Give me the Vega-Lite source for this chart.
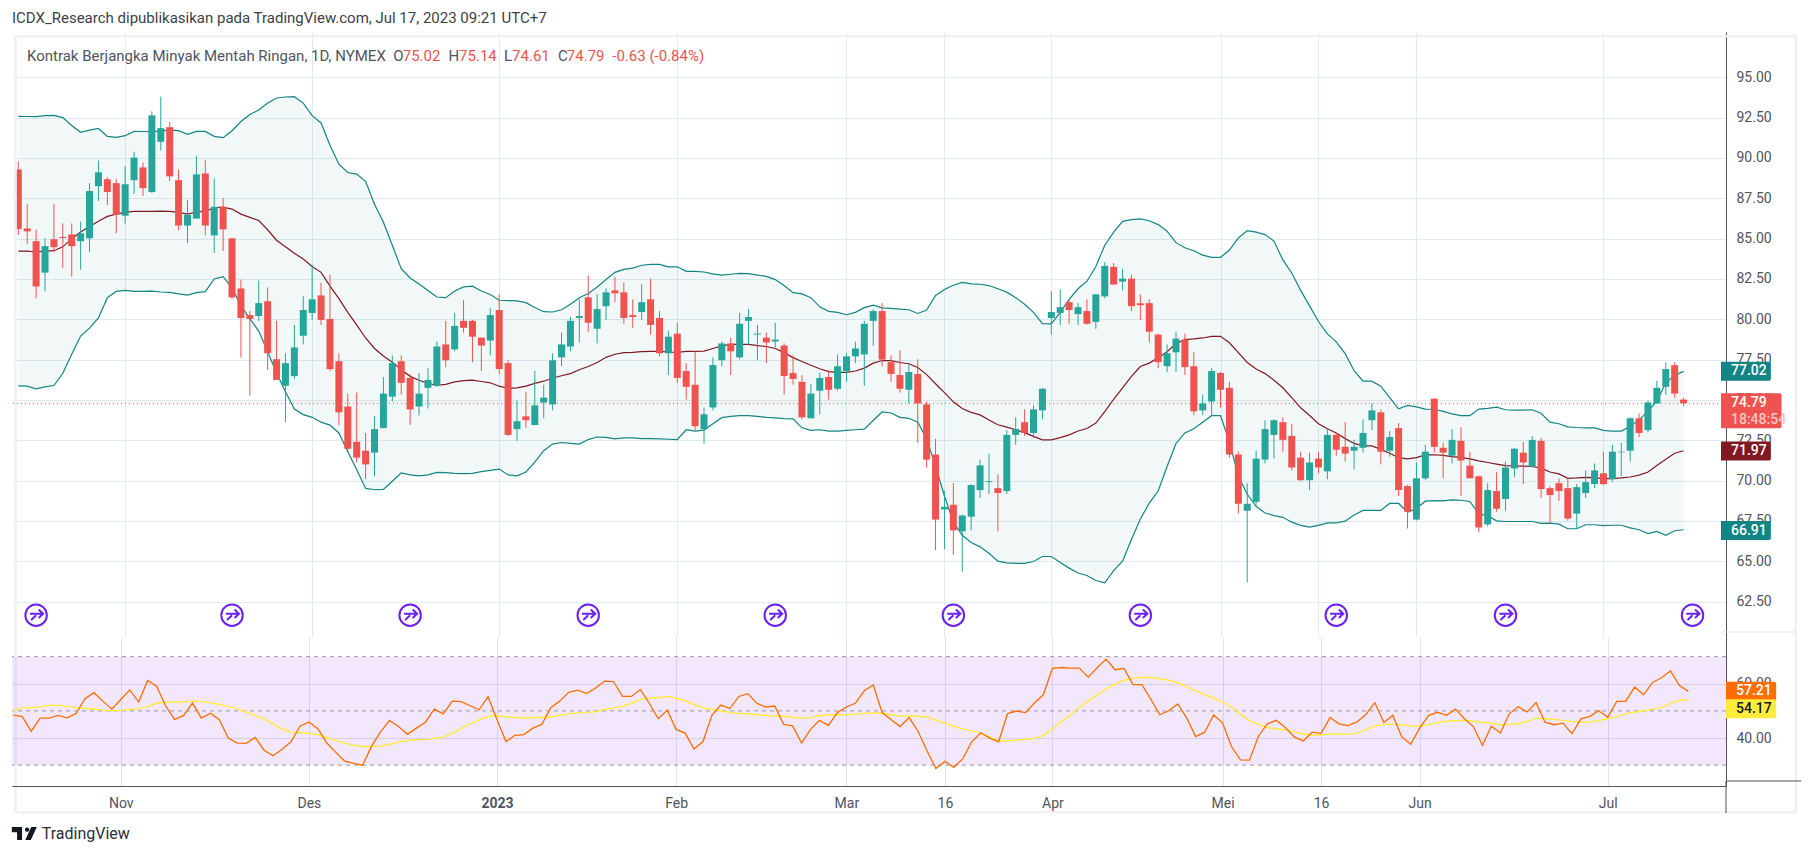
{
  "$schema": "https://vega.github.io/schema/vega-lite/v6.json",
  "padding": {"left": 11, "top": 11, "right": 0, "bottom": 0},
  "background": "#ffffff",
  "bounds": "flush",
  "title": {"text": "ICDX_Research dipublikasikan pada TradingView.com, Jul 17, 2023 09:21 UTC+7", "anchor": "start", "frame": "group", "font": "Roboto", "fontSize": 15, "fontWeight": "normal", "color": "#3c3f4a", "offset": 6},
  "config": {"view": {"stroke": null}, "font": "Roboto"},
  "datasets": {
    "bars": [
      {"bar":0,"o":89.29,"h":89.78,"l":85.22,"c":85.59,"upper":92.58,"basis":84.23,"lower":75.87,"rsi":48.46,"rsi_ma":50.06},
      {"bar":1,"o":85.63,"h":87.15,"l":84.66,"c":85.45,"upper":92.57,"basis":84.23,"lower":75.85,"rsi":47.88,"rsi_ma":51.21},
      {"bar":2,"o":84.84,"h":85.57,"l":81.3,"c":82.03,"upper":92.56,"basis":84.17,"lower":75.69,"rsi":42.5,"rsi_ma":51.21},
      {"bar":3,"o":82.89,"h":85.02,"l":81.73,"c":84.53,"upper":92.62,"basis":84.23,"lower":75.81,"rsi":47.31,"rsi_ma":51.44},
      {"bar":4,"o":84.96,"h":87.15,"l":84.17,"c":84.47,"upper":92.64,"basis":84.25,"lower":75.89,"rsi":47.31,"rsi_ma":52.12},
      {"bar":5,"o":85.1,"h":85.94,"l":83.19,"c":85.04,"upper":92.5,"basis":84.49,"lower":76.65,"rsi":48.34,"rsi_ma":52.12},
      {"bar":6,"o":85.26,"h":85.94,"l":82.64,"c":84.53,"upper":92.01,"basis":85.0,"lower":77.83,"rsi":47.42,"rsi_ma":51.67},
      {"bar":7,"o":84.84,"h":86.06,"l":83.07,"c":85.33,"upper":91.59,"basis":85.41,"lower":78.96,"rsi":49.03,"rsi_ma":51.21},
      {"bar":8,"o":85.02,"h":88.44,"l":84.17,"c":87.95,"upper":91.73,"basis":85.75,"lower":79.45,"rsi":54.53,"rsi_ma":50.98},
      {"bar":9,"o":88.25,"h":89.84,"l":87.34,"c":89.11,"upper":91.83,"basis":86.08,"lower":80.08,"rsi":56.71,"rsi_ma":50.63},
      {"bar":10,"o":88.68,"h":88.8,"l":87.09,"c":87.89,"upper":91.34,"basis":86.38,"lower":81.34,"rsi":53.61,"rsi_ma":50.29},
      {"bar":11,"o":88.44,"h":88.68,"l":85.33,"c":86.48,"upper":91.28,"basis":86.52,"lower":81.73,"rsi":50.63,"rsi_ma":50.06},
      {"bar":12,"o":86.42,"h":89.47,"l":85.94,"c":88.37,"upper":91.38,"basis":86.63,"lower":81.79,"rsi":54.19,"rsi_ma":50.18},
      {"bar":13,"o":88.62,"h":90.39,"l":87.76,"c":90.02,"upper":91.65,"basis":86.69,"lower":81.73,"rsi":57.74,"rsi_ma":50.52},
      {"bar":14,"o":89.41,"h":89.72,"l":87.64,"c":88.13,"upper":91.64,"basis":86.69,"lower":81.73,"rsi":53.27,"rsi_ma":50.75},
      {"bar":15,"o":87.89,"h":92.89,"l":87.83,"c":92.64,"upper":91.63,"basis":86.69,"lower":81.75,"rsi":61.18,"rsi_ma":51.67},
      {"bar":16,"o":91.0,"h":93.8,"l":90.45,"c":91.85,"upper":91.68,"basis":86.71,"lower":81.69,"rsi":59.12,"rsi_ma":52.81},
      {"bar":17,"o":91.91,"h":92.22,"l":88.56,"c":88.86,"upper":91.73,"basis":86.69,"lower":81.67,"rsi":51.9,"rsi_ma":53.27},
      {"bar":18,"o":88.62,"h":89.29,"l":85.51,"c":85.81,"upper":91.69,"basis":86.63,"lower":81.57,"rsi":46.85,"rsi_ma":53.27},
      {"bar":19,"o":85.81,"h":87.4,"l":84.72,"c":86.48,"upper":91.46,"basis":86.52,"lower":81.5,"rsi":48.23,"rsi_ma":53.27},
      {"bar":20,"o":86.24,"h":90.14,"l":86.24,"c":88.98,"upper":91.65,"basis":86.65,"lower":81.65,"rsi":52.93,"rsi_ma":53.61},
      {"bar":21,"o":89.04,"h":89.9,"l":85.2,"c":85.81,"upper":91.65,"basis":86.69,"lower":81.71,"rsi":47.31,"rsi_ma":53.5},
      {"bar":22,"o":85.2,"h":88.74,"l":84.11,"c":86.97,"upper":91.34,"basis":86.91,"lower":82.5,"rsi":49.14,"rsi_ma":53.04},
      {"bar":23,"o":86.97,"h":87.52,"l":84.23,"c":85.57,"upper":91.26,"basis":86.95,"lower":82.64,"rsi":46.74,"rsi_ma":52.35},
      {"bar":24,"o":85.02,"h":85.02,"l":81.24,"c":81.36,"upper":91.69,"basis":86.83,"lower":81.95,"rsi":39.97,"rsi_ma":51.55},
      {"bar":25,"o":81.91,"h":82.46,"l":77.64,"c":80.08,"upper":92.26,"basis":86.52,"lower":80.83,"rsi":38.14,"rsi_ma":50.75},
      {"bar":26,"o":80.26,"h":80.51,"l":75.26,"c":80.02,"upper":92.7,"basis":86.32,"lower":80.02,"rsi":38.03,"rsi_ma":49.6},
      {"bar":27,"o":80.2,"h":82.4,"l":79.9,"c":81.0,"upper":92.97,"basis":86.12,"lower":79.27,"rsi":40.2,"rsi_ma":48.23},
      {"bar":28,"o":81.12,"h":81.97,"l":76.85,"c":77.89,"upper":93.41,"basis":85.55,"lower":77.99,"rsi":35.5,"rsi_ma":47.08},
      {"bar":29,"o":77.52,"h":79.9,"l":76.24,"c":76.24,"upper":93.72,"basis":84.9,"lower":76.67,"rsi":33.44,"rsi_ma":45.25},
      {"bar":30,"o":75.87,"h":77.89,"l":73.62,"c":77.28,"upper":93.78,"basis":84.49,"lower":75.51,"rsi":35.85,"rsi_ma":43.41},
      {"bar":31,"o":76.48,"h":79.65,"l":76.3,"c":78.25,"upper":93.8,"basis":84.09,"lower":74.43,"rsi":38.6,"rsi_ma":42.15},
      {"bar":32,"o":78.98,"h":81.42,"l":78.44,"c":80.57,"upper":93.4,"basis":83.74,"lower":74.09,"rsi":44.33,"rsi_ma":41.92},
      {"bar":33,"o":80.39,"h":83.37,"l":79.96,"c":81.24,"upper":92.62,"basis":83.27,"lower":73.92,"rsi":45.93,"rsi_ma":41.81},
      {"bar":34,"o":81.48,"h":82.28,"l":79.65,"c":79.96,"upper":92.17,"basis":82.91,"lower":73.62,"rsi":43.41,"rsi_ma":41.12},
      {"bar":35,"o":80.02,"h":82.76,"l":76.79,"c":76.91,"upper":90.79,"basis":82.05,"lower":73.44,"rsi":38.14,"rsi_ma":40.2},
      {"bar":36,"o":77.4,"h":77.89,"l":73.44,"c":74.23,"upper":89.61,"basis":81.28,"lower":72.95,"rsi":34.7,"rsi_ma":39.06},
      {"bar":37,"o":74.59,"h":75.39,"l":71.79,"c":71.97,"upper":89.1,"basis":80.43,"lower":71.79,"rsi":31.5,"rsi_ma":38.14},
      {"bar":38,"o":72.4,"h":75.45,"l":71.12,"c":71.42,"upper":89.0,"basis":79.65,"lower":70.67,"rsi":30.69,"rsi_ma":37.34},
      {"bar":39,"o":71.85,"h":72.95,"l":70.08,"c":71.0,"upper":88.55,"basis":78.84,"lower":69.51,"rsi":30.0,"rsi_ma":36.88},
      {"bar":40,"o":71.73,"h":73.98,"l":70.26,"c":73.19,"upper":87.13,"basis":78.19,"lower":69.43,"rsi":37.0,"rsi_ma":36.88},
      {"bar":41,"o":73.25,"h":76.42,"l":73.25,"c":75.39,"upper":86.01,"basis":77.72,"lower":69.45,"rsi":42.27,"rsi_ma":37.0},
      {"bar":42,"o":75.2,"h":77.76,"l":74.9,"c":77.28,"upper":84.59,"basis":77.34,"lower":69.96,"rsi":46.51,"rsi_ma":37.68},
      {"bar":43,"o":77.4,"h":77.76,"l":75.33,"c":76.06,"upper":83.13,"basis":76.87,"lower":70.47,"rsi":44.22,"rsi_ma":38.49},
      {"bar":44,"o":76.36,"h":76.61,"l":73.44,"c":74.41,"upper":82.56,"basis":76.46,"lower":70.35,"rsi":41.35,"rsi_ma":39.06},
      {"bar":45,"o":74.59,"h":76.67,"l":74.05,"c":75.39,"upper":82.19,"basis":76.22,"lower":70.29,"rsi":43.64,"rsi_ma":39.4},
      {"bar":46,"o":75.75,"h":76.97,"l":74.47,"c":76.24,"upper":81.78,"basis":76.02,"lower":70.35,"rsi":45.82,"rsi_ma":39.4},
      {"bar":47,"o":75.87,"h":78.62,"l":75.81,"c":78.31,"upper":81.38,"basis":75.91,"lower":70.51,"rsi":50.63,"rsi_ma":39.86},
      {"bar":48,"o":78.44,"h":79.9,"l":77.03,"c":77.46,"upper":81.34,"basis":75.96,"lower":70.49,"rsi":48.92,"rsi_ma":40.32},
      {"bar":49,"o":78.13,"h":80.39,"l":78.01,"c":79.59,"upper":81.75,"basis":76.12,"lower":70.45,"rsi":53.61,"rsi_ma":41.81},
      {"bar":50,"o":79.9,"h":81.18,"l":79.17,"c":79.47,"upper":82.01,"basis":76.2,"lower":70.43,"rsi":53.38,"rsi_ma":43.53},
      {"bar":51,"o":79.9,"h":79.96,"l":77.34,"c":78.92,"upper":82.05,"basis":76.22,"lower":70.45,"rsi":51.9,"rsi_ma":45.25},
      {"bar":52,"o":78.86,"h":78.86,"l":76.79,"c":78.37,"upper":81.75,"basis":76.14,"lower":70.55,"rsi":50.4,"rsi_ma":46.74},
      {"bar":53,"o":78.68,"h":80.69,"l":77.76,"c":80.26,"upper":81.54,"basis":76.06,"lower":70.63,"rsi":55.22,"rsi_ma":47.88},
      {"bar":54,"o":80.57,"h":81.55,"l":76.61,"c":76.91,"upper":81.18,"basis":75.85,"lower":70.71,"rsi":46.74,"rsi_ma":48.11},
      {"bar":55,"o":77.28,"h":77.46,"l":72.76,"c":72.83,"upper":81.16,"basis":75.71,"lower":70.35,"rsi":38.71,"rsi_ma":47.88},
      {"bar":56,"o":73.19,"h":74.96,"l":72.46,"c":73.68,"upper":81.14,"basis":75.75,"lower":70.29,"rsi":41.0,"rsi_ma":47.54},
      {"bar":57,"o":73.98,"h":75.51,"l":73.25,"c":73.74,"upper":81.03,"basis":75.85,"lower":70.53,"rsi":41.24,"rsi_ma":47.31},
      {"bar":58,"o":73.44,"h":76.79,"l":73.44,"c":74.66,"upper":80.73,"basis":76.02,"lower":71.14,"rsi":43.64,"rsi_ma":47.54},
      {"bar":59,"o":74.84,"h":75.94,"l":73.86,"c":75.14,"upper":80.47,"basis":76.16,"lower":71.85,"rsi":45.02,"rsi_ma":47.54},
      {"bar":60,"o":74.72,"h":77.89,"l":74.35,"c":77.46,"upper":80.45,"basis":76.36,"lower":72.26,"rsi":51.21,"rsi_ma":47.77},
      {"bar":61,"o":77.64,"h":79.17,"l":77.09,"c":78.44,"upper":80.59,"basis":76.5,"lower":72.36,"rsi":53.61,"rsi_ma":48.34},
      {"bar":62,"o":78.31,"h":80.14,"l":78.01,"c":79.9,"upper":80.93,"basis":76.63,"lower":72.3,"rsi":56.82,"rsi_ma":48.92},
      {"bar":63,"o":80.08,"h":81.24,"l":78.56,"c":80.2,"upper":81.34,"basis":76.87,"lower":72.26,"rsi":57.62,"rsi_ma":49.26},
      {"bar":64,"o":81.36,"h":82.7,"l":79.23,"c":79.78,"upper":81.6,"basis":77.07,"lower":72.54,"rsi":56.36,"rsi_ma":49.37},
      {"bar":65,"o":79.41,"h":81.55,"l":78.5,"c":80.63,"upper":82.0,"basis":77.32,"lower":72.7,"rsi":58.43,"rsi_ma":49.72},
      {"bar":66,"o":80.81,"h":81.91,"l":79.96,"c":81.67,"upper":82.46,"basis":77.64,"lower":72.68,"rsi":60.95,"rsi_ma":50.52},
      {"bar":67,"o":81.79,"h":82.64,"l":81.06,"c":81.61,"upper":82.91,"basis":77.83,"lower":72.58,"rsi":60.83,"rsi_ma":51.09},
      {"bar":68,"o":81.67,"h":82.28,"l":79.72,"c":80.08,"upper":83.09,"basis":77.93,"lower":72.64,"rsi":55.33,"rsi_ma":51.67},
      {"bar":69,"o":80.26,"h":81.24,"l":79.47,"c":80.14,"upper":83.17,"basis":77.95,"lower":72.64,"rsi":55.33,"rsi_ma":52.81},
      {"bar":70,"o":80.45,"h":82.16,"l":79.96,"c":81.06,"upper":83.35,"basis":77.99,"lower":72.6,"rsi":57.85,"rsi_ma":54.19},
      {"bar":71,"o":81.24,"h":82.52,"l":79.05,"c":79.65,"upper":83.4,"basis":78.01,"lower":72.6,"rsi":52.81,"rsi_ma":54.65},
      {"bar":72,"o":80.08,"h":80.51,"l":77.7,"c":77.89,"upper":83.4,"basis":78.01,"lower":72.58,"rsi":47.08,"rsi_ma":54.87},
      {"bar":73,"o":77.89,"h":79.29,"l":76.55,"c":78.92,"upper":83.25,"basis":77.97,"lower":72.56,"rsi":50.29,"rsi_ma":55.33},
      {"bar":74,"o":79.11,"h":79.78,"l":76.06,"c":76.36,"upper":83.25,"basis":77.95,"lower":72.54,"rsi":43.18,"rsi_ma":54.65},
      {"bar":75,"o":76.79,"h":77.28,"l":75.02,"c":75.81,"upper":82.97,"basis":78.01,"lower":73.15,"rsi":41.81,"rsi_ma":53.73},
      {"bar":76,"o":75.94,"h":78.01,"l":73.11,"c":73.37,"upper":82.97,"basis":78.01,"lower":73.07,"rsi":35.96,"rsi_ma":52.35},
      {"bar":77,"o":73.19,"h":74.53,"l":72.28,"c":74.11,"upper":82.93,"basis":78.03,"lower":73.13,"rsi":38.71,"rsi_ma":51.09},
      {"bar":78,"o":74.53,"h":77.64,"l":74.35,"c":77.16,"upper":82.81,"basis":78.19,"lower":73.52,"rsi":48.46,"rsi_ma":50.52},
      {"bar":79,"o":77.46,"h":78.62,"l":77.09,"c":78.5,"upper":82.74,"basis":78.35,"lower":73.9,"rsi":52.12,"rsi_ma":50.06},
      {"bar":80,"o":78.5,"h":78.86,"l":76.55,"c":78.01,"upper":82.79,"basis":78.44,"lower":73.98,"rsi":50.86,"rsi_ma":49.37},
      {"bar":81,"o":77.64,"h":80.39,"l":77.52,"c":79.72,"upper":82.85,"basis":78.44,"lower":74.02,"rsi":55.33,"rsi_ma":49.03},
      {"bar":82,"o":79.9,"h":80.63,"l":78.44,"c":80.14,"upper":82.83,"basis":78.44,"lower":74.02,"rsi":56.36,"rsi_ma":48.92},
      {"bar":83,"o":79.05,"h":79.65,"l":77.46,"c":79.11,"upper":82.74,"basis":78.37,"lower":73.98,"rsi":52.81,"rsi_ma":48.69},
      {"bar":84,"o":78.86,"h":79.17,"l":77.28,"c":78.56,"upper":82.66,"basis":78.31,"lower":73.92,"rsi":51.44,"rsi_ma":48.34},
      {"bar":85,"o":78.62,"h":79.78,"l":78.25,"c":78.74,"upper":82.46,"basis":78.19,"lower":73.88,"rsi":51.78,"rsi_ma":48.23},
      {"bar":86,"o":78.37,"h":78.5,"l":75.33,"c":76.48,"upper":82.09,"basis":77.93,"lower":73.84,"rsi":45.02,"rsi_ma":48.0},
      {"bar":87,"o":76.67,"h":77.76,"l":75.94,"c":76.3,"upper":81.65,"basis":77.62,"lower":73.82,"rsi":44.45,"rsi_ma":47.65},
      {"bar":88,"o":76.12,"h":76.55,"l":73.8,"c":73.92,"upper":81.57,"basis":77.38,"lower":73.27,"rsi":38.14,"rsi_ma":47.31},
      {"bar":89,"o":73.86,"h":76.0,"l":73.86,"c":75.39,"upper":81.34,"basis":77.15,"lower":73.11,"rsi":43.18,"rsi_ma":47.42},
      {"bar":90,"o":75.57,"h":76.67,"l":74.11,"c":76.36,"upper":80.77,"basis":76.93,"lower":73.15,"rsi":46.51,"rsi_ma":48.23},
      {"bar":91,"o":76.42,"h":76.85,"l":75.02,"c":75.63,"upper":80.49,"basis":76.75,"lower":73.07,"rsi":44.67,"rsi_ma":48.57},
      {"bar":92,"o":75.69,"h":77.82,"l":75.57,"c":77.09,"upper":80.43,"basis":76.71,"lower":73.07,"rsi":49.37,"rsi_ma":48.57},
      {"bar":93,"o":76.79,"h":77.89,"l":76.12,"c":77.7,"upper":80.28,"basis":76.71,"lower":73.11,"rsi":51.44,"rsi_ma":48.57},
      {"bar":94,"o":77.7,"h":78.62,"l":77.28,"c":78.19,"upper":80.43,"basis":76.79,"lower":73.15,"rsi":52.81,"rsi_ma":48.8},
      {"bar":95,"o":77.82,"h":79.9,"l":75.88,"c":79.72,"upper":80.72,"basis":76.97,"lower":73.19,"rsi":57.4,"rsi_ma":49.03},
      {"bar":96,"o":79.9,"h":80.63,"l":78.37,"c":80.51,"upper":80.87,"basis":77.28,"lower":73.72,"rsi":59.57,"rsi_ma":49.26},
      {"bar":97,"o":80.51,"h":81.0,"l":77.09,"c":77.5,"upper":80.71,"basis":77.44,"lower":74.25,"rsi":49.37,"rsi_ma":49.14},
      {"bar":98,"o":77.34,"h":77.76,"l":76.12,"c":76.61,"upper":80.67,"basis":77.44,"lower":74.19,"rsi":46.74,"rsi_ma":48.57},
      {"bar":99,"o":76.54,"h":78.07,"l":75.45,"c":75.69,"upper":80.63,"basis":77.32,"lower":73.92,"rsi":44.22,"rsi_ma":48.11},
      {"bar":100,"o":75.63,"h":77.22,"l":74.78,"c":76.73,"upper":80.59,"basis":77.24,"lower":73.86,"rsi":47.54,"rsi_ma":48.11},
      {"bar":101,"o":76.61,"h":77.52,"l":72.34,"c":74.78,"upper":80.36,"basis":77.01,"lower":73.62,"rsi":42.5,"rsi_ma":48.0},
      {"bar":102,"o":74.72,"h":74.9,"l":70.81,"c":71.3,"upper":80.57,"basis":76.57,"lower":72.6,"rsi":35.28,"rsi_ma":47.77},
      {"bar":103,"o":71.61,"h":72.58,"l":65.69,"c":67.58,"upper":81.48,"basis":76.0,"lower":70.87,"rsi":28.74,"rsi_ma":46.62},
      {"bar":104,"o":68.21,"h":69.35,"l":65.75,"c":68.37,"upper":81.85,"basis":75.45,"lower":69.04,"rsi":31.38,"rsi_ma":45.48},
      {"bar":105,"o":68.5,"h":69.84,"l":65.39,"c":66.91,"upper":82.11,"basis":74.88,"lower":67.42,"rsi":29.2,"rsi_ma":44.33},
      {"bar":106,"o":66.85,"h":67.89,"l":64.35,"c":67.83,"upper":82.29,"basis":74.47,"lower":66.61,"rsi":32.41,"rsi_ma":43.3},
      {"bar":107,"o":67.76,"h":69.78,"l":66.91,"c":69.72,"upper":82.19,"basis":74.23,"lower":66.16,"rsi":38.6,"rsi_ma":42.61},
      {"bar":108,"o":69.41,"h":71.3,"l":68.92,"c":70.94,"upper":82.17,"basis":74.07,"lower":65.89,"rsi":41.92,"rsi_ma":41.81},
      {"bar":109,"o":69.9,"h":71.67,"l":69.17,"c":69.96,"upper":82.09,"basis":73.76,"lower":65.49,"rsi":39.97,"rsi_ma":40.43},
      {"bar":110,"o":69.53,"h":70.39,"l":66.85,"c":69.23,"upper":81.89,"basis":73.46,"lower":65.0,"rsi":38.6,"rsi_ma":39.06},
      {"bar":111,"o":69.35,"h":73.13,"l":69.17,"c":72.83,"upper":81.68,"basis":73.31,"lower":64.9,"rsi":49.03,"rsi_ma":38.94},
      {"bar":112,"o":72.83,"h":73.92,"l":72.22,"c":73.19,"upper":81.34,"basis":73.15,"lower":64.86,"rsi":49.95,"rsi_ma":39.17},
      {"bar":113,"o":73.62,"h":74.41,"l":72.76,"c":72.95,"upper":80.93,"basis":72.97,"lower":64.86,"rsi":49.37,"rsi_ma":39.52},
      {"bar":114,"o":72.95,"h":74.66,"l":72.64,"c":74.41,"upper":80.43,"basis":72.74,"lower":64.98,"rsi":52.93,"rsi_ma":39.86},
      {"bar":115,"o":74.35,"h":75.75,"l":73.8,"c":75.69,"upper":79.73,"basis":72.52,"lower":65.29,"rsi":56.02,"rsi_ma":41.0},
      {"bar":116,"o":80.08,"h":81.74,"l":79.04,"c":80.45,"upper":79.71,"basis":72.52,"lower":65.29,"rsi":65.65,"rsi_ma":43.3},
      {"bar":117,"o":80.39,"h":81.85,"l":79.65,"c":80.75,"upper":80.43,"basis":72.66,"lower":64.92,"rsi":65.99,"rsi_ma":46.05},
      {"bar":118,"o":81.06,"h":81.24,"l":79.72,"c":80.57,"upper":81.24,"basis":72.83,"lower":64.57,"rsi":65.76,"rsi_ma":48.46},
      {"bar":119,"o":80.32,"h":81.0,"l":79.65,"c":80.75,"upper":81.89,"basis":73.07,"lower":64.27,"rsi":65.76,"rsi_ma":51.32},
      {"bar":120,"o":80.51,"h":81.24,"l":79.65,"c":79.72,"upper":82.36,"basis":73.23,"lower":64.11,"rsi":62.44,"rsi_ma":53.61},
      {"bar":121,"o":79.84,"h":81.56,"l":79.4,"c":81.54,"upper":83.27,"basis":73.56,"lower":63.8,"rsi":65.88,"rsi_ma":55.91},
      {"bar":122,"o":81.42,"h":83.55,"l":81.3,"c":83.31,"upper":84.59,"basis":74.27,"lower":63.66,"rsi":69.09,"rsi_ma":57.97},
      {"bar":123,"o":83.25,"h":83.49,"l":82.15,"c":82.15,"upper":85.4,"basis":75.04,"lower":64.41,"rsi":65.19,"rsi_ma":59.92},
      {"bar":124,"o":82.33,"h":83.13,"l":81.79,"c":82.52,"upper":86.07,"basis":75.75,"lower":65.0,"rsi":65.65,"rsi_ma":61.29},
      {"bar":125,"o":82.52,"h":82.76,"l":80.51,"c":80.81,"upper":86.18,"basis":76.46,"lower":66.34,"rsi":59.69,"rsi_ma":61.98},
      {"bar":126,"o":80.99,"h":81.54,"l":79.95,"c":80.87,"upper":86.22,"basis":77.07,"lower":67.62,"rsi":59.69,"rsi_ma":62.32},
      {"bar":127,"o":81.0,"h":81.24,"l":78.56,"c":79.23,"upper":86.11,"basis":77.28,"lower":68.6,"rsi":54.19,"rsi_ma":62.32},
      {"bar":128,"o":79.05,"h":79.11,"l":76.97,"c":77.34,"upper":85.87,"basis":77.62,"lower":69.35,"rsi":48.57,"rsi_ma":61.87},
      {"bar":129,"o":77.09,"h":78.44,"l":76.73,"c":77.89,"upper":85.46,"basis":77.99,"lower":70.87,"rsi":50.06,"rsi_ma":61.29},
      {"bar":130,"o":77.95,"h":79.23,"l":76.73,"c":78.8,"upper":84.75,"basis":78.5,"lower":72.3,"rsi":52.58,"rsi_ma":60.38},
      {"bar":131,"o":78.74,"h":79.11,"l":76.55,"c":77.03,"upper":84.43,"basis":78.74,"lower":72.95,"rsi":47.31,"rsi_ma":59.0},
      {"bar":132,"o":77.09,"h":77.95,"l":74.05,"c":74.29,"upper":84.25,"basis":78.78,"lower":73.21,"rsi":40.55,"rsi_ma":57.4},
      {"bar":133,"o":74.35,"h":75.33,"l":74.05,"c":74.78,"upper":83.98,"basis":78.84,"lower":73.62,"rsi":42.15,"rsi_ma":56.02},
      {"bar":134,"o":74.9,"h":76.97,"l":74.05,"c":76.79,"upper":83.84,"basis":78.94,"lower":74.02,"rsi":48.46,"rsi_ma":54.76},
      {"bar":135,"o":76.67,"h":76.73,"l":74.53,"c":75.63,"upper":83.84,"basis":78.94,"lower":74.02,"rsi":45.59,"rsi_ma":53.27},
      {"bar":136,"o":75.75,"h":76.12,"l":71.42,"c":71.61,"upper":84.29,"basis":78.54,"lower":72.4,"rsi":36.77,"rsi_ma":51.32},
      {"bar":137,"o":71.61,"h":71.79,"l":67.95,"c":68.56,"upper":85.05,"basis":77.93,"lower":70.26,"rsi":31.95,"rsi_ma":48.8},
      {"bar":138,"o":68.13,"h":69.84,"l":63.68,"c":68.56,"upper":85.49,"basis":77.32,"lower":69.15,"rsi":31.84,"rsi_ma":46.39},
      {"bar":139,"o":68.68,"h":71.85,"l":68.5,"c":71.36,"upper":85.4,"basis":76.91,"lower":68.4,"rsi":40.66,"rsi_ma":45.02},
      {"bar":140,"o":71.3,"h":73.74,"l":71.06,"c":73.19,"upper":85.25,"basis":76.63,"lower":67.99,"rsi":45.25,"rsi_ma":43.87},
      {"bar":141,"o":72.83,"h":73.8,"l":71.36,"c":73.74,"upper":84.85,"basis":76.22,"lower":67.83,"rsi":46.51,"rsi_ma":43.41},
      {"bar":142,"o":73.62,"h":73.92,"l":71.79,"c":72.52,"upper":83.68,"basis":75.75,"lower":67.72,"rsi":43.87,"rsi_ma":43.07},
      {"bar":143,"o":72.77,"h":73.5,"l":70.63,"c":70.81,"upper":82.87,"basis":75.14,"lower":67.42,"rsi":40.43,"rsi_ma":42.27},
      {"bar":144,"o":71.42,"h":71.79,"l":69.96,"c":70.02,"upper":81.79,"basis":74.51,"lower":67.22,"rsi":38.94,"rsi_ma":41.47},
      {"bar":145,"o":70.02,"h":71.73,"l":69.41,"c":71.12,"upper":80.83,"basis":74.03,"lower":67.11,"rsi":42.15,"rsi_ma":41.12},
      {"bar":146,"o":71.36,"h":71.79,"l":70.45,"c":70.81,"upper":79.86,"basis":73.52,"lower":67.22,"rsi":41.7,"rsi_ma":41.12},
      {"bar":147,"o":70.57,"h":73.19,"l":70.08,"c":72.83,"upper":79.09,"basis":73.21,"lower":67.38,"rsi":47.54,"rsi_ma":41.58},
      {"bar":148,"o":72.83,"h":72.95,"l":71.55,"c":71.91,"upper":78.6,"basis":72.95,"lower":67.38,"rsi":45.25,"rsi_ma":41.47},
      {"bar":149,"o":72.09,"h":73.62,"l":71.18,"c":71.67,"upper":77.87,"basis":72.6,"lower":67.48,"rsi":44.56,"rsi_ma":41.35},
      {"bar":150,"o":71.85,"h":72.52,"l":70.69,"c":72.09,"upper":76.81,"basis":72.3,"lower":67.87,"rsi":45.93,"rsi_ma":41.81},
      {"bar":151,"o":72.03,"h":73.8,"l":71.73,"c":72.95,"upper":76.16,"basis":72.15,"lower":68.15,"rsi":48.69,"rsi_ma":43.07},
      {"bar":152,"o":73.74,"h":74.78,"l":73.13,"c":74.35,"upper":76.16,"basis":72.15,"lower":68.15,"rsi":53.04,"rsi_ma":44.45},
      {"bar":153,"o":74.23,"h":74.41,"l":71.0,"c":71.79,"upper":75.85,"basis":71.93,"lower":68.15,"rsi":45.71,"rsi_ma":45.02},
      {"bar":154,"o":71.85,"h":73.07,"l":71.48,"c":72.7,"upper":75.14,"basis":71.69,"lower":68.58,"rsi":48.34,"rsi_ma":45.13},
      {"bar":155,"o":73.25,"h":73.56,"l":69.05,"c":69.41,"upper":74.45,"basis":71.42,"lower":68.58,"rsi":40.43,"rsi_ma":44.9},
      {"bar":156,"o":69.66,"h":69.72,"l":67.03,"c":68.07,"upper":74.66,"basis":71.34,"lower":68.03,"rsi":37.68,"rsi_ma":44.45},
      {"bar":157,"o":67.58,"h":71.12,"l":67.52,"c":70.14,"upper":74.57,"basis":71.42,"lower":68.27,"rsi":43.64,"rsi_ma":44.45},
      {"bar":158,"o":70.14,"h":72.22,"l":70.02,"c":71.79,"upper":74.43,"basis":71.59,"lower":68.72,"rsi":48.34,"rsi_ma":45.02},
      {"bar":159,"o":75.08,"h":75.08,"l":71.73,"c":72.09,"upper":74.42,"basis":71.6,"lower":68.75,"rsi":49.49,"rsi_ma":45.71},
      {"bar":160,"o":72.03,"h":72.34,"l":70.14,"c":71.73,"upper":74.29,"basis":71.56,"lower":68.74,"rsi":48.34,"rsi_ma":46.16},
      {"bar":161,"o":71.54,"h":73.19,"l":71.06,"c":72.52,"upper":74.13,"basis":71.48,"lower":68.8,"rsi":50.63,"rsi_ma":46.39},
      {"bar":162,"o":72.46,"h":73.31,"l":69.04,"c":71.24,"upper":74.02,"basis":71.44,"lower":68.78,"rsi":47.08,"rsi_ma":46.51},
      {"bar":163,"o":70.93,"h":71.79,"l":70.14,"c":70.14,"upper":74.02,"basis":71.34,"lower":68.7,"rsi":44.22,"rsi_ma":46.16},
      {"bar":164,"o":70.26,"h":70.32,"l":66.79,"c":67.09,"upper":74.43,"basis":71.22,"lower":67.93,"rsi":37.34,"rsi_ma":45.82},
      {"bar":165,"o":67.28,"h":69.84,"l":67.15,"c":69.41,"upper":74.47,"basis":71.12,"lower":67.82,"rsi":44.33,"rsi_ma":45.48},
      {"bar":166,"o":69.35,"h":70.51,"l":68.07,"c":68.25,"upper":74.55,"basis":71.02,"lower":67.5,"rsi":41.81,"rsi_ma":44.9},
      {"bar":167,"o":68.86,"h":71.18,"l":68.13,"c":70.81,"upper":74.39,"basis":70.93,"lower":67.46,"rsi":48.92,"rsi_ma":45.02},
      {"bar":168,"o":70.75,"h":72.03,"l":70.2,"c":71.97,"upper":74.37,"basis":70.91,"lower":67.46,"rsi":51.55,"rsi_ma":45.25},
      {"bar":169,"o":71.73,"h":72.4,"l":69.78,"c":71.12,"upper":74.37,"basis":70.89,"lower":67.46,"rsi":49.6,"rsi_ma":46.16},
      {"bar":170,"o":70.87,"h":72.76,"l":70.81,"c":72.52,"upper":74.39,"basis":70.87,"lower":67.46,"rsi":53.04,"rsi_ma":47.31},
      {"bar":171,"o":72.46,"h":72.64,"l":68.92,"c":69.47,"upper":74.17,"basis":70.77,"lower":67.34,"rsi":45.82,"rsi_ma":47.08},
      {"bar":172,"o":69.53,"h":69.65,"l":67.34,"c":69.1,"upper":73.62,"basis":70.53,"lower":67.36,"rsi":44.9,"rsi_ma":46.85},
      {"bar":173,"o":69.84,"h":70.14,"l":68.74,"c":69.35,"upper":73.52,"basis":70.41,"lower":67.3,"rsi":45.48,"rsi_ma":46.51},
      {"bar":174,"o":69.53,"h":70.14,"l":67.52,"c":67.64,"upper":73.33,"basis":70.14,"lower":67.01,"rsi":41.58,"rsi_ma":46.05},
      {"bar":175,"o":67.95,"h":69.78,"l":67.03,"c":69.59,"upper":73.29,"basis":70.16,"lower":67.01,"rsi":47.08,"rsi_ma":45.82},
      {"bar":176,"o":69.23,"h":70.63,"l":68.92,"c":69.9,"upper":73.27,"basis":70.2,"lower":67.26,"rsi":48.0,"rsi_ma":45.93},
      {"bar":177,"o":69.78,"h":71.06,"l":69.53,"c":70.63,"upper":73.27,"basis":70.18,"lower":67.26,"rsi":50.06,"rsi_ma":46.39},
      {"bar":178,"o":70.45,"h":71.79,"l":69.71,"c":69.78,"upper":73.11,"basis":70.12,"lower":67.21,"rsi":47.65,"rsi_ma":47.08},
      {"bar":179,"o":70.08,"h":72.22,"l":69.9,"c":71.79,"upper":73.07,"basis":70.12,"lower":67.23,"rsi":53.5,"rsi_ma":47.88},
      {"bar":180,"o":71.75,"h":72.34,"l":70.26,"c":71.79,"upper":73.07,"basis":70.16,"lower":67.23,"rsi":53.5,"rsi_ma":48.92},
      {"bar":181,"o":71.85,"h":73.92,"l":71.18,"c":73.86,"upper":73.35,"basis":70.22,"lower":67.07,"rsi":58.77,"rsi_ma":49.6},
      {"bar":182,"o":73.86,"h":74.17,"l":72.7,"c":72.95,"upper":73.76,"basis":70.34,"lower":66.95,"rsi":55.91,"rsi_ma":49.95},
      {"bar":183,"o":73.13,"h":74.96,"l":73.01,"c":74.84,"upper":74.29,"basis":70.53,"lower":66.71,"rsi":60.49,"rsi_ma":50.63},
      {"bar":184,"o":74.78,"h":76.18,"l":74.78,"c":75.75,"upper":74.94,"basis":70.93,"lower":66.85,"rsi":62.21,"rsi_ma":51.21},
      {"bar":185,"o":75.81,"h":77.34,"l":75.32,"c":76.91,"upper":76.06,"basis":71.32,"lower":66.6,"rsi":64.73,"rsi_ma":52.7},
      {"bar":186,"o":77.15,"h":77.34,"l":75.14,"c":75.39,"upper":76.52,"basis":71.69,"lower":66.89,"rsi":59.34,"rsi_ma":53.84},
      {"bar":187,"o":75.02,"h":75.14,"l":74.61,"c":74.79,"upper":76.77,"basis":71.85,"lower":66.95,"rsi":57.21,"rsi_ma":54.3}
    ],
    "markers": [{"bar":2},{"bar":24},{"bar":44},{"bar":64},{"bar":85},{"bar":105},{"bar":126},{"bar":148},{"bar":167},{"bar":188}],
    "header": [
      {"bar":0.97,"text":"Kontrak Berjangka Minyak Mentah Ringan, 1D, NYMEX","kind":"name"},
      {"bar":42.1,"text":"O","kind":"name"},
      {"bar":43.17,"text":"75.02","kind":"value"},
      {"bar":48.3,"text":"H","kind":"name"},
      {"bar":49.5,"text":"75.14","kind":"value"},
      {"bar":54.55,"text":"L","kind":"name"},
      {"bar":55.45,"text":"74.61","kind":"value"},
      {"bar":60.6,"text":"C","kind":"name"},
      {"bar":61.6,"text":"74.79","kind":"value"},
      {"bar":66.7,"text":"-0.63 (-0.84%)","kind":"value"}
    ],
    "priceTags": [
      {"series":"upper","price":76.78,"label":"77.02"},
      {"series":"basis","price":71.83,"label":"71.97"},
      {"series":"lower","price":66.9,"label":"66.91"}
    ],
    "lastTag": [
      {"series":"last","price":74.33}
    ],
    "lastText": [
      {"part":"close","price":74.79,"label":"74.79"},
      {"part":"clock","price":73.78,"label":"18:48:54"}
    ],
    "rsiTags": [
      {"series":"rsi","price":57.2,"label":"57.21"},
      {"series":"rsi_ma","price":50.8,"label":"54.17"}
    ],
    "levels": [{"level":70},{"level":50},{"level":30}],
    "single": [{}]
  },
  "spacing": 0,
  "vconcat": [
    {
      "width": 1714,
      "height": 605,
      "layer": [
        {
          "data": {"name": "bars"},
          "mark": {"type": "area", "color": "#138484", "opacity": 0.055, "clip": true},
          "encoding": {
            "x": {"field": "bar", "type": "quantitative", "title": null, "scale": {"domain": [-0.145, 191.2], "nice": false, "zero": false},
              "axis": {"values": [12,33,54,74,93,104,116,135,146,157,178], "grid": true, "gridColor": "#e1ecf2", "labels": false, "ticks": false, "domain": false, "title": null}},
            "y": {"field": "upper", "type": "quantitative", "title": null, "scale": {"domain": [60.61, 97.5], "nice": false, "zero": false},
              "axis": {"orient": "right", "values": [62.5,65,67.5,70,72.5,75,77.5,80,82.5,85,87.5,90,92.5,95], "format": ".2f", "grid": true, "gridColor": "#e1ecf2", "tickSize": 0, "labelPadding": 10, "labelFont": "Roboto", "labelFontSize": 14, "labelColor": "#50535e", "domainColor": "#50535e", "title": null}},
            "y2": {"field": "lower"}
          }
        },
        {
          "data": {"name": "bars"},
          "mark": {"type": "line", "color": "#138484", "strokeWidth": 1.2, "clip": true},
          "encoding": {
            "x": {"field": "bar", "type": "quantitative", "title": null, "scale": {"domain": [-0.145, 191.2], "nice": false, "zero": false}},
            "y": {"field": "upper", "type": "quantitative", "title": null, "scale": {"domain": [60.61, 97.5], "nice": false, "zero": false}}
          }
        },
        {
          "data": {"name": "bars"},
          "mark": {"type": "line", "color": "#138484", "strokeWidth": 1.2, "clip": true},
          "encoding": {
            "x": {"field": "bar", "type": "quantitative", "title": null, "scale": {"domain": [-0.145, 191.2], "nice": false, "zero": false}},
            "y": {"field": "lower", "type": "quantitative", "title": null, "scale": {"domain": [60.61, 97.5], "nice": false, "zero": false}}
          }
        },
        {
          "data": {"name": "bars"},
          "mark": {"type": "line", "color": "#801922", "strokeWidth": 1.2, "clip": true},
          "encoding": {
            "x": {"field": "bar", "type": "quantitative", "title": null, "scale": {"domain": [-0.145, 191.2], "nice": false, "zero": false}},
            "y": {"field": "basis", "type": "quantitative", "title": null, "scale": {"domain": [60.61, 97.5], "nice": false, "zero": false}}
          }
        },
        {
          "data": {"name": "bars"},
          "mark": {"type": "rule", "strokeWidth": 1, "clip": true},
          "encoding": {
            "x": {"field": "bar", "type": "quantitative", "title": null, "scale": {"domain": [-0.145, 191.2], "nice": false, "zero": false}},
            "y": {"field": "l", "type": "quantitative", "title": null, "scale": {"domain": [60.61, 97.5], "nice": false, "zero": false}},
            "y2": {"field": "h"},
            "color": {"condition": {"test": "datum.c >= datum.o", "value": "#26a69a"}, "value": "#ef5350"}
          }
        },
        {
          "data": {"name": "bars"},
          "mark": {"type": "bar", "size": 7, "clip": true},
          "encoding": {
            "x": {"field": "bar", "type": "quantitative", "title": null, "scale": {"domain": [-0.145, 191.2], "nice": false, "zero": false}},
            "y": {"field": "o", "type": "quantitative", "title": null, "scale": {"domain": [60.61, 97.5], "nice": false, "zero": false}},
            "y2": {"field": "c"},
            "color": {"condition": {"test": "datum.c >= datum.o", "value": "#26a69a"}, "value": "#ef5350"}
          }
        },
        {
          "data": {"name": "single"},
          "mark": {"type": "rule", "color": "#ef5350", "strokeWidth": 1, "strokeDash": [1, 3]},
          "encoding": {
            "y": {"datum": 74.79, "type": "quantitative", "title": null, "scale": {"domain": [60.61, 97.5], "nice": false, "zero": false}}
          }
        },
        {
          "data": {"name": "markers"},
          "mark": {"type": "point", "shape": "circle", "size": 460, "filled": false, "stroke": "#6b21f5", "strokeWidth": 2, "opacity": 1, "clip": false},
          "encoding": {
            "x": {"field": "bar", "type": "quantitative", "title": null, "scale": {"domain": [-0.145, 191.2], "nice": false, "zero": false}},
            "y": {"datum": 61.65, "type": "quantitative", "title": null, "scale": {"domain": [60.61, 97.5], "nice": false, "zero": false}}
          }
        },
        {
          "data": {"name": "markers"},
          "mark": {"type": "point", "shape": "M-0.62,-0.15L0.7,-0.15M0.25,-0.58L0.7,-0.15L0.25,0.28M-0.5,0.48L0,0", "size": 400, "filled": false, "stroke": "#6b21f5", "strokeWidth": 2, "opacity": 1, "clip": false},
          "encoding": {
            "x": {"field": "bar", "type": "quantitative", "title": null, "scale": {"domain": [-0.145, 191.2], "nice": false, "zero": false}},
            "y": {"datum": 61.65, "type": "quantitative", "title": null, "scale": {"domain": [60.61, 97.5], "nice": false, "zero": false}}
          }
        },
        {
          "data": {"name": "header"},
          "mark": {"type": "text", "align": "left", "baseline": "middle", "font": "Roboto", "fontSize": 15},
          "encoding": {
            "x": {"field": "bar", "type": "quantitative", "title": null, "scale": {"domain": [-0.145, 191.2], "nice": false, "zero": false}},
            "y": {"datum": 96.3, "type": "quantitative", "title": null, "scale": {"domain": [60.61, 97.5], "nice": false, "zero": false}},
            "text": {"field": "text"},
            "color": {"condition": {"test": "datum.kind === 'value'", "value": "#ef5350"}, "value": "#50535e"}
          }
        },
        {
          "data": {"name": "priceTags"},
          "mark": {"type": "bar", "size": 19, "cornerRadiusTopRight": 2, "cornerRadiusBottomRight": 2, "clip": false},
          "encoding": {
            "x": {"datum": 191.2, "type": "quantitative", "title": null, "scale": {"domain": [-0.145, 191.2], "nice": false, "zero": false}},
            "x2": {"datum": 196.8},
            "y": {"field": "price", "type": "quantitative", "title": null, "scale": {"domain": [60.61, 97.5], "nice": false, "zero": false}},
            "color": {"field": "series", "type": "nominal", "legend": null, "scale": {"domain": ["upper", "basis", "lower", "last", "rsi", "rsi_ma"], "range": ["#138484", "#801922", "#138484", "#ef5350", "#ff6d00", "#ffeb3b"]}}
          }
        },
        {
          "data": {"name": "lastTag"},
          "mark": {"type": "bar", "size": 35, "cornerRadiusTopRight": 2, "cornerRadiusBottomRight": 2, "clip": false},
          "encoding": {
            "x": {"datum": 191.2, "type": "quantitative", "title": null, "scale": {"domain": [-0.145, 191.2], "nice": false, "zero": false}},
            "x2": {"datum": 198},
            "y": {"field": "price", "type": "quantitative", "title": null, "scale": {"domain": [60.61, 97.5], "nice": false, "zero": false}},
            "color": {"field": "series", "type": "nominal", "legend": null, "scale": {"domain": ["upper", "basis", "lower", "last", "rsi", "rsi_ma"], "range": ["#138484", "#801922", "#138484", "#ef5350", "#ff6d00", "#ffeb3b"]}}
          }
        },
        {
          "data": {"name": "priceTags"},
          "mark": {"type": "text", "align": "left", "baseline": "middle", "dx": 10, "font": "Roboto", "fontSize": 14, "fontWeight": 500, "color": "#ffffff"},
          "encoding": {
            "x": {"datum": 191.2, "type": "quantitative", "title": null, "scale": {"domain": [-0.145, 191.2], "nice": false, "zero": false}},
            "y": {"field": "price", "type": "quantitative", "title": null, "scale": {"domain": [60.61, 97.5], "nice": false, "zero": false}},
            "text": {"field": "label"}
          }
        },
        {
          "data": {"name": "lastText"},
          "mark": {"type": "text", "align": "left", "baseline": "middle", "dx": 10, "font": "Roboto", "fontSize": 14, "fontWeight": 500},
          "encoding": {
            "x": {"datum": 191.2, "type": "quantitative", "title": null, "scale": {"domain": [-0.145, 191.2], "nice": false, "zero": false}},
            "y": {"field": "price", "type": "quantitative", "title": null, "scale": {"domain": [60.61, 97.5], "nice": false, "zero": false}},
            "text": {"field": "label"},
            "color": {"condition": {"test": "datum.part === 'clock'", "value": "#fbc4c3"}, "value": "#ffffff"}
          }
        },
        {
          "data": {"name": "single"},
          "mark": {"type": "rect", "fill": null, "stroke": "#eef0f4", "strokeWidth": 2.5, "clip": false},
          "encoding": {
            "x": {"datum": -0.3, "type": "quantitative", "title": null, "scale": {"domain": [-0.145, 191.2], "nice": false, "zero": false}},
            "x2": {"datum": 199.6},
            "y": {"datum": 97.55, "type": "quantitative", "title": null, "scale": {"domain": [60.61, 97.5], "nice": false, "zero": false}},
            "y2": {"datum": 49.43}
          }
        },
        {
          "data": {"name": "single"},
          "mark": {"type": "rule", "color": "#e0e3eb", "strokeWidth": 1, "clip": false},
          "encoding": {
            "x": {"datum": 191.2, "type": "quantitative", "title": null, "scale": {"domain": [-0.145, 191.2], "nice": false, "zero": false}},
            "x2": {"datum": 199.6},
            "y": {"datum": 60.61, "type": "quantitative", "title": null, "scale": {"domain": [60.61, 97.5], "nice": false, "zero": false}}
          }
        }
      ]
    },
    {
      "width": 1714,
      "height": 149,
      "layer": [
        {
          "data": {"name": "single"},
          "mark": {"type": "rect", "color": "#7e12e8", "opacity": 0.1},
          "encoding": {
            "x": {"datum": -0.145, "type": "quantitative", "title": null, "scale": {"domain": [-0.145, 191.2], "nice": false, "zero": false},
              "axis": {"values": [12,33,54,74,93,104,116,135,146,157,178], "grid": true, "gridColor": "#e1e5ee", "ticks": false, "domainColor": "#50535e", "labelPadding": 10, "labelFont": "Roboto", "labelFontSize": 14, "labelColor": "#50535e", "labelAngle": 0, "labelFlush": false, "title": null,
                "labelExpr": "['Nov','Des','2023','Feb','Mar','16','Apr','Mei','16','Jun','Jul'][indexof([12,33,54,74,93,104,116,135,146,157,178], datum.value)]",
                "labelFontWeight": {"condition": {"test": "datum.value === 54", "value": "bold"}, "value": "normal"}}},
            "x2": {"datum": 191.2},
            "y": {"datum": 70, "type": "quantitative", "title": null, "scale": {"domain": [24.15, 75.4], "nice": false, "zero": false},
              "axis": {"orient": "right", "values": [40, 60], "format": ".2f", "grid": true, "gridColor": "#e0e3eb", "tickSize": 0, "labelPadding": 10, "labelFont": "Roboto", "labelFontSize": 14, "labelColor": "#50535e", "domainColor": "#50535e", "title": null}},
            "y2": {"datum": 30}
          }
        },
        {
          "data": {"name": "levels"},
          "mark": {"type": "rule", "color": "#9598a1", "strokeWidth": 1, "strokeDash": [4, 4]},
          "encoding": {
            "y": {"field": "level", "type": "quantitative", "title": null, "scale": {"domain": [24.15, 75.4], "nice": false, "zero": false}}
          }
        },
        {
          "data": {"name": "bars"},
          "mark": {"type": "line", "color": "#ffeb3b", "strokeWidth": 1.4, "clip": true},
          "encoding": {
            "x": {"field": "bar", "type": "quantitative", "title": null, "scale": {"domain": [-0.145, 191.2], "nice": false, "zero": false}},
            "y": {"field": "rsi_ma", "type": "quantitative", "title": null, "scale": {"domain": [24.15, 75.4], "nice": false, "zero": false}}
          }
        },
        {
          "data": {"name": "bars"},
          "mark": {"type": "line", "color": "#ff6d00", "strokeWidth": 1.3, "clip": true},
          "encoding": {
            "x": {"field": "bar", "type": "quantitative", "title": null, "scale": {"domain": [-0.145, 191.2], "nice": false, "zero": false}},
            "y": {"field": "rsi", "type": "quantitative", "title": null, "scale": {"domain": [24.15, 75.4], "nice": false, "zero": false}}
          }
        },
        {
          "data": {"name": "rsiTags"},
          "mark": {"type": "bar", "size": 19, "cornerRadiusTopRight": 2, "cornerRadiusBottomRight": 2, "clip": false},
          "encoding": {
            "x": {"datum": 191.2, "type": "quantitative", "title": null, "scale": {"domain": [-0.145, 191.2], "nice": false, "zero": false}},
            "x2": {"datum": 196.8},
            "y": {"field": "price", "type": "quantitative", "title": null, "scale": {"domain": [24.15, 75.4], "nice": false, "zero": false}},
            "color": {"field": "series", "type": "nominal", "legend": null, "scale": {"domain": ["upper", "basis", "lower", "last", "rsi", "rsi_ma"], "range": ["#138484", "#801922", "#138484", "#ef5350", "#ff6d00", "#ffeb3b"]}}
          }
        },
        {
          "data": {"name": "rsiTags"},
          "mark": {"type": "text", "align": "left", "baseline": "middle", "dx": 10, "font": "Roboto", "fontSize": 14, "fontWeight": 500},
          "encoding": {
            "x": {"datum": 191.2, "type": "quantitative", "title": null, "scale": {"domain": [-0.145, 191.2], "nice": false, "zero": false}},
            "y": {"field": "price", "type": "quantitative", "title": null, "scale": {"domain": [24.15, 75.4], "nice": false, "zero": false}},
            "text": {"field": "label"},
            "color": {"condition": {"test": "datum.series === 'rsi_ma'", "value": "#131722"}, "value": "#ffffff"}
          }
        },
        {
          "data": {"name": "single"},
          "mark": {"type": "rule", "color": "#50535e", "strokeWidth": 1, "clip": false},
          "encoding": {
            "x": {"datum": 191.2, "type": "quantitative", "title": null, "scale": {"domain": [-0.145, 191.2], "nice": false, "zero": false}},
            "x2": {"datum": 199.6},
            "y": {"datum": 24.15, "type": "quantitative", "title": null, "scale": {"domain": [24.15, 75.4], "nice": false, "zero": false}}
          }
        },
        {
          "data": {"name": "single"},
          "mark": {"type": "rule", "color": "#50535e", "strokeWidth": 1, "clip": false},
          "encoding": {
            "x": {"datum": 191.2, "type": "quantitative", "title": null, "scale": {"domain": [-0.145, 191.2], "nice": false, "zero": false}},
            "y": {"datum": 24.15, "type": "quantitative", "title": null, "scale": {"domain": [24.15, 75.4], "nice": false, "zero": false}},
            "y2": {"datum": 12.32}
          }
        },
        {
          "data": {"name": "single"},
          "mark": {"type": "point", "shape": "M-1,-0.52H-0.18V0.52H-0.58V-0.1H-1ZM0.05,-0.3A0.17,0.17,0,1,1,0.05,-0.299ZM0.55,-0.52H1L0.52,0.52H0.08Z", "size": 625, "filled": true, "color": "#131722", "opacity": 1, "clip": false},
          "encoding": {
            "x": {"datum": 1.23, "type": "quantitative", "title": null, "scale": {"domain": [-0.145, 191.2], "nice": false, "zero": false}},
            "y": {"datum": 4.82, "type": "quantitative", "title": null, "scale": {"domain": [24.15, 75.4], "nice": false, "zero": false}}
          }
        },
        {
          "data": {"name": "single"},
          "mark": {"type": "text", "text": "TradingView", "align": "left", "baseline": "middle", "font": "Roboto", "fontSize": 16, "color": "#2a2e39", "clip": false},
          "encoding": {
            "x": {"datum": 3.17, "type": "quantitative", "title": null, "scale": {"domain": [-0.145, 191.2], "nice": false, "zero": false}},
            "y": {"datum": 4.65, "type": "quantitative", "title": null, "scale": {"domain": [24.15, 75.4], "nice": false, "zero": false}}
          }
        }
      ]
    }
  ]
}
